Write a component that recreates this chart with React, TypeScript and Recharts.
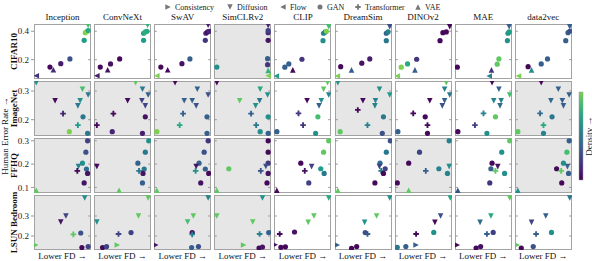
import React from "react";
import { ReferenceLine, Scatter, ScatterChart, XAxis, YAxis } from "recharts";

// [x (FD rank, 0 = worst .. 1 = best), human error rate, model family, density]
type Pt = [number, number, string, number];

const extractors = ["Inception", "ConvNeXt", "SwAV", "SimCLRv2", "CLIP", "DreamSim", "DINOv2", "MAE", "data2vec"];
const datasets = ["CIFAR10", "ImageNet", "FFHQ", "LSUN Bedroom"];
const families = [
    ["C", "Consistency"],
    ["D", "Diffusion"],
    ["F", "Flow"],
    ["G", "GAN"],
    ["T", "Transformer"],
    ["V", "VAE"],
];
const yDomains = [
    [0.064, 0.451],
    [0.143, 0.335],
    [0.076, 0.312],
    [0.13, 0.405],
];
const yTicks = [
    [0.2, 0.4],
    [0.2, 0.3],
    [0.1, 0.2, 0.3],
    [0.2, 0.3],
];
// panels shaded grey (per dataset row)
const shadedPanels = [[3], [0, 1, 2, 3, 5, 8], [0, 1, 2, 3, 6, 8], [0, 1, 2, 3]];

const cifar10: Pt[][] = [
    [[0.04, 0.087, "F", 0.15], [0.28, 0.148, "G", 0.02], [0.34, 0.129, "V", 0.12], [0.47, 0.172, "G", 0.08], [0.63, 0.205, "G", 0.25], [0.88, 0.336, "G", 0.55], [0.9, 0.39, "G", 0.8], [0.93, 0.4, "G", 0.85], [0.95, 0.405, "G", 0.6], [0.95, 0.44, "D", 0.7]],
    [[0.05, 0.087, "F", 0.08], [0.11, 0.148, "G", 0.02], [0.24, 0.129, "V", 0.05], [0.29, 0.17, "G", 0.05], [0.45, 0.205, "G", 0.02], [0.87, 0.336, "G", 0.55], [0.87, 0.386, "G", 0.55], [0.9, 0.395, "G", 0.65], [0.93, 0.4, "G", 0.6], [0.94, 0.442, "D", 0.65]],
    [[0.05, 0.087, "F", 0.8], [0.12, 0.148, "G", 0.02], [0.24, 0.129, "V", 0.02], [0.49, 0.172, "G", 0.05], [0.63, 0.205, "G", 0.3], [0.9, 0.336, "G", 0.15], [0.91, 0.386, "G", 0.1], [0.94, 0.395, "G", 0.05], [0.97, 0.4, "G", 0.1], [0.95, 0.442, "D", 0.08]],
    [[0.05, 0.148, "G", 0.5], [0.95, 0.087, "F", 0.8], [0.95, 0.125, "V", 0.65], [0.94, 0.165, "G", 0.15], [0.94, 0.207, "G", 0.3], [0.95, 0.336, "G", 0.05], [0.95, 0.39, "G", 0.12], [0.95, 0.405, "G", 0.2], [0.95, 0.44, "D", 0.1]],
    [[0.04, 0.085, "F", 0.55], [0.19, 0.147, "G", 0.3], [0.26, 0.17, "G", 0.3], [0.33, 0.128, "V", 0.02], [0.49, 0.203, "G", 0.15], [0.86, 0.334, "G", 0.5], [0.87, 0.386, "G", 0.45], [0.9, 0.395, "G", 0.4], [0.92, 0.4, "G", 0.8], [0.96, 0.432, "D", 0.7]],
    [[0.04, 0.085, "F", 0.8], [0.1, 0.151, "G", 0.02], [0.29, 0.128, "V", 0.3], [0.47, 0.175, "G", 0.05], [0.61, 0.205, "G", 0.08], [0.9, 0.334, "G", 0.4], [0.9, 0.386, "G", 0.3], [0.93, 0.395, "G", 0.45], [0.96, 0.432, "D", 0.25]],
    [[0.04, 0.085, "F", 0.8], [0.11, 0.147, "G", 0.8], [0.22, 0.17, "G", 0.6], [0.35, 0.128, "V", 0.3], [0.38, 0.203, "G", 0.15], [0.79, 0.334, "G", 0.02], [0.84, 0.39, "G", 0.02], [0.9, 0.395, "G", 0.02], [0.96, 0.432, "D", 0.02]],
    [[0.04, 0.147, "G", 0.02], [0.6, 0.085, "F", 0.45], [0.64, 0.128, "V", 0.15], [0.74, 0.168, "G", 0.75], [0.77, 0.205, "G", 0.75], [0.92, 0.334, "G", 0.5], [0.93, 0.386, "G", 0.5], [0.95, 0.395, "G", 0.55], [0.95, 0.432, "D", 0.3]],
    [[0.06, 0.085, "F", 0.8], [0.23, 0.151, "G", 0.02], [0.29, 0.128, "V", 0.5], [0.46, 0.17, "G", 0.3], [0.57, 0.205, "G", 0.3], [0.89, 0.334, "G", 0.3], [0.93, 0.39, "G", 0.3], [0.96, 0.4, "G", 0.25], [0.96, 0.432, "D", 0.3]],
];

const imagenet: Pt[][] = [
    [[0.04, 0.329, "D", 0.5], [0.85, 0.306, "D", 0.7], [0.95, 0.286, "D", 0.4], [0.37, 0.266, "D", 0.02], [0.81, 0.266, "D", 0.5], [0.77, 0.248, "D", 0.4], [0.51, 0.221, "T", 0.1], [0.86, 0.21, "G", 0.4], [0.77, 0.181, "T", 0.55], [0.62, 0.158, "G", 0.8], [0.94, 0.152, "G", 0.4]],
    [[0.73, 0.329, "D", 0.75], [0.85, 0.306, "D", 0.4], [0.95, 0.286, "D", 0.3], [0.59, 0.266, "D", 0.02], [0.84, 0.266, "D", 0.2], [0.9, 0.248, "D", 0.2], [0.34, 0.221, "T", 0.02], [0.9, 0.21, "G", 0.05], [0.05, 0.181, "T", 0.02], [0.32, 0.158, "G", 0.1], [0.85, 0.152, "G", 0.08]],
    [[0.37, 0.329, "D", 0.02], [0.76, 0.306, "D", 0.3], [0.95, 0.286, "D", 0.25], [0.53, 0.266, "D", 0.3], [0.67, 0.266, "D", 0.3], [0.74, 0.248, "D", 0.25], [0.51, 0.221, "T", 0.3], [0.93, 0.21, "G", 0.3], [0.45, 0.181, "T", 0.6], [0.05, 0.158, "G", 0.8], [0.93, 0.152, "G", 0.3]],
    [[0.05, 0.329, "D", 0.02], [0.81, 0.306, "D", 0.6], [0.94, 0.286, "D", 0.5], [0.45, 0.266, "D", 0.75], [0.8, 0.266, "D", 0.4], [0.73, 0.248, "D", 0.5], [0.65, 0.221, "T", 0.3], [0.95, 0.21, "G", 0.5], [0.74, 0.181, "T", 0.4], [0.81, 0.158, "G", 0.5], [0.95, 0.152, "G", 0.3]],
    [[0.94, 0.329, "D", 0.75], [0.87, 0.306, "D", 0.75], [0.96, 0.286, "D", 0.45], [0.58, 0.266, "D", 0.02], [0.83, 0.266, "D", 0.5], [0.79, 0.248, "D", 0.3], [0.43, 0.222, "T", 0.15], [0.77, 0.21, "G", 0.7], [0.51, 0.181, "T", 0.15], [0.05, 0.158, "G", 0.3], [0.73, 0.152, "G", 0.5]],
    [[0.05, 0.329, "D", 0.5], [0.78, 0.306, "D", 0.5], [0.96, 0.286, "D", 0.55], [0.49, 0.266, "D", 0.02], [0.71, 0.266, "D", 0.45], [0.7, 0.248, "D", 0.45], [0.4, 0.234, "T", 0.02], [0.85, 0.21, "G", 0.4], [0.57, 0.181, "T", 0.45], [0.09, 0.158, "G", 0.75], [0.83, 0.152, "G", 0.25]],
    [[0.9, 0.329, "D", 0.75], [0.87, 0.306, "D", 0.45], [0.96, 0.286, "D", 0.4], [0.61, 0.266, "D", 0.02], [0.87, 0.266, "D", 0.3], [0.83, 0.248, "D", 0.25], [0.32, 0.222, "T", 0.02], [0.53, 0.21, "G", 0.02], [0.57, 0.181, "T", 0.02], [0.05, 0.158, "G", 0.3], [0.57, 0.152, "G", 0.02]],
    [[0.65, 0.329, "D", 0.02], [0.77, 0.306, "D", 0.3], [0.96, 0.286, "D", 0.7], [0.68, 0.266, "D", 0.45], [0.81, 0.266, "D", 0.45], [0.79, 0.248, "D", 0.35], [0.5, 0.222, "T", 0.45], [0.71, 0.21, "G", 0.75], [0.35, 0.181, "T", 0.2], [0.05, 0.158, "G", 0.02], [0.56, 0.152, "G", 0.5]],
    [[0.46, 0.329, "D", 0.02], [0.76, 0.306, "D", 0.3], [0.95, 0.286, "D", 0.3], [0.63, 0.266, "D", 0.35], [0.83, 0.266, "D", 0.3], [0.85, 0.248, "D", 0.3], [0.44, 0.222, "T", 0.35], [0.65, 0.21, "G", 0.4], [0.5, 0.181, "T", 0.6], [0.05, 0.158, "G", 0.75], [0.5, 0.152, "G", 0.45]],
];

const ffhq: Pt[][] = [
    [[0.94, 0.3, "G", 0.2], [0.91, 0.251, "G", 0.25], [0.85, 0.204, "G", 0.5], [0.78, 0.19, "D", 0.45], [0.92, 0.179, "G", 0.35], [0.76, 0.171, "T", 0.02], [0.94, 0.16, "G", 0.05], [0.88, 0.119, "G", 0.05], [0.04, 0.088, "V", 0.75]],
    [[0.96, 0.3, "G", 0.5], [0.9, 0.251, "G", 0.4], [0.77, 0.204, "G", 0.3], [0.05, 0.19, "D", 0.02], [0.88, 0.179, "G", 0.4], [0.79, 0.171, "T", 0.4], [0.86, 0.16, "G", 0.05], [0.85, 0.119, "G", 0.3], [0.44, 0.088, "V", 0.75]],
    [[0.95, 0.3, "G", 0.15], [0.88, 0.251, "G", 0.25], [0.79, 0.204, "G", 0.3], [0.74, 0.19, "D", 0.05], [0.9, 0.179, "G", 0.3], [0.73, 0.171, "T", 0.5], [0.96, 0.16, "G", 0.02], [0.82, 0.119, "G", 0.05], [0.05, 0.088, "V", 0.75]],
    [[0.95, 0.3, "G", 0.02], [0.95, 0.251, "G", 0.02], [0.95, 0.204, "G", 0.15], [0.91, 0.19, "D", 0.25], [0.26, 0.18, "G", 0.75], [0.82, 0.171, "T", 0.25], [0.95, 0.16, "G", 0.05], [0.93, 0.119, "G", 0.02], [0.05, 0.088, "V", 0.75]],
    [[0.96, 0.3, "G", 0.75], [0.87, 0.251, "G", 0.75], [0.47, 0.204, "G", 0.02], [0.66, 0.189, "D", 0.2], [0.82, 0.18, "G", 0.55], [0.54, 0.171, "T", 0.05], [0.88, 0.16, "G", 0.4], [0.61, 0.119, "G", 0.2], [0.05, 0.088, "V", 0.02]],
    [[0.97, 0.3, "G", 0.25], [0.9, 0.251, "G", 0.4], [0.79, 0.204, "G", 0.35], [0.78, 0.189, "D", 0.2], [0.88, 0.18, "G", 0.2], [0.81, 0.171, "T", 0.4], [0.85, 0.16, "G", 0.02], [0.7, 0.119, "G", 0.02], [0.05, 0.088, "V", 0.75]],
    [[0.95, 0.3, "G", 0.45], [0.43, 0.251, "G", 0.2], [0.24, 0.204, "G", 0.02], [0.95, 0.189, "D", 0.5], [0.77, 0.18, "G", 0.45], [0.54, 0.171, "T", 0.3], [0.92, 0.16, "G", 0.45], [0.04, 0.119, "G", 0.02], [0.24, 0.088, "V", 0.75]],
    [[0.96, 0.3, "G", 0.75], [0.82, 0.251, "G", 0.5], [0.65, 0.204, "G", 0.02], [0.75, 0.189, "D", 0.05], [0.63, 0.18, "G", 0.3], [0.71, 0.171, "T", 0.75], [0.87, 0.16, "G", 0.5], [0.61, 0.119, "G", 0.15], [0.05, 0.088, "V", 0.25]],
    [[0.95, 0.3, "G", 0.3], [0.91, 0.251, "G", 0.7], [0.85, 0.204, "G", 0.5], [0.92, 0.189, "D", 0.3], [0.73, 0.18, "G", 0.02], [0.81, 0.171, "T", 0.75], [0.94, 0.16, "G", 0.3], [0.82, 0.119, "G", 0.02], [0.05, 0.088, "V", 0.5]],
];

const lsunBedroom: Pt[][] = [
    [[0.89, 0.39, "D", 0.5], [0.56, 0.3, "D", 0.2], [0.47, 0.27, "D", 0.05], [0.69, 0.208, "T", 0.75], [0.82, 0.215, "G", 0.25], [0.03, 0.155, "C", 0.75], [0.84, 0.142, "G", 0.02], [0.95, 0.147, "G", 0.2]],
    [[0.95, 0.39, "D", 0.75], [0.78, 0.3, "D", 0.75], [0.05, 0.27, "D", 0.5], [0.43, 0.21, "T", 0.2], [0.65, 0.217, "G", 0.2], [0.41, 0.155, "C", 0.75], [0.15, 0.142, "G", 0.02], [0.22, 0.147, "G", 0.2]],
    [[0.95, 0.39, "D", 0.45], [0.69, 0.3, "D", 0.75], [0.59, 0.27, "D", 0.7], [0.67, 0.217, "G", 0.02], [0.67, 0.208, "T", 0.45], [0.03, 0.155, "C", 0.05], [0.66, 0.142, "G", 0.3], [0.78, 0.147, "G", 0.25]],
    [[0.85, 0.39, "D", 0.5], [0.05, 0.3, "D", 0.75], [0.68, 0.27, "D", 0.75], [0.8, 0.21, "T", 0.45], [0.96, 0.217, "G", 0.3], [0.52, 0.155, "C", 0.75], [0.79, 0.14, "G", 0.02], [0.85, 0.145, "G", 0.05]],
    [[0.96, 0.39, "D", 0.6], [0.7, 0.3, "D", 0.75], [0.6, 0.268, "D", 0.75], [0.1, 0.21, "T", 0.02], [0.36, 0.22, "G", 0.05], [0.02, 0.156, "C", 0.05], [0.12, 0.143, "G", 0.02], [0.2, 0.146, "G", 0.02]],
    [[0.96, 0.39, "D", 0.5], [0.73, 0.3, "D", 0.75], [0.52, 0.268, "D", 0.5], [0.57, 0.21, "T", 0.3], [0.53, 0.217, "G", 0.25], [0.04, 0.155, "C", 0.3], [0.29, 0.138, "G", 0.02], [0.38, 0.147, "G", 0.02]],
    [[0.97, 0.39, "D", 0.6], [0.8, 0.3, "D", 0.25], [0.7, 0.268, "D", 0.02], [0.37, 0.21, "T", 0.02], [0.68, 0.218, "G", 0.5], [0.37, 0.155, "C", 0.3], [0.04, 0.143, "G", 0.4], [0.19, 0.147, "G", 0.3]],
    [[0.96, 0.39, "D", 0.75], [0.63, 0.3, "D", 0.6], [0.44, 0.268, "D", 0.35], [0.56, 0.21, "T", 0.3], [0.67, 0.218, "G", 0.2], [0.04, 0.155, "C", 0.02], [0.37, 0.14, "G", 0.02], [0.45, 0.147, "G", 0.05]],
    [[0.96, 0.39, "D", 0.4], [0.54, 0.3, "D", 0.3], [0.29, 0.268, "D", 0.2], [0.37, 0.21, "T", 0.3], [0.64, 0.218, "G", 0.5], [0.04, 0.155, "C", 0.75], [0.11, 0.14, "G", 0.02], [0.32, 0.147, "G", 0.25]],
];

const allRows = [cifar10, imagenet, ffhq, lsunBedroom];

const FONT = "'Liberation Serif', 'Times New Roman', 'DejaVu Serif', serif";
const ROW_TOP = [24, 81, 138, 195];
const ROW_H = 55;
const COL_LEFT = 34;
const COL_STEP = 60.1;
const COL_W = 57;
const AXIS_W = 22;
const PAD = 6; // room above/below the plot so edge tick labels are not cut

const VIRIDIS = ["#440154", "#482878", "#3e4989", "#31688e", "#26828e", "#1f9e89", "#35b779", "#6ece58", "#b5de2b", "#fde725"];

function viridis(t: number) {
    const v = Math.max(0, Math.min(1, t)) * (VIRIDIS.length - 1);
    const i = Math.min(Math.floor(v), VIRIDIS.length - 2);
    const f = v - i;
    const a = VIRIDIS[i];
    const b = VIRIDIS[i + 1];
    const ch = (h: string, k: number) => parseInt(h.slice(1 + k * 2, 3 + k * 2), 16);
    const mix = [0, 1, 2].map((k) => Math.round(ch(a, k) + (ch(b, k) - ch(a, k)) * f));
    return `rgb(${mix.join(",")})`;
}

function markerPath(t: string, cx: number, cy: number, s: number) {
    switch (t) {
        case "D":
            return `M${cx - s},${cy - s}L${cx + s},${cy - s}L${cx},${cy + s}Z`;
        case "V":
            return `M${cx - s},${cy + s}L${cx + s},${cy + s}L${cx},${cy - s}Z`;
        case "F":
            return `M${cx + s},${cy - s}L${cx + s},${cy + s}L${cx - s},${cy}Z`;
        case "C":
            return `M${cx - s},${cy - s}L${cx - s},${cy + s}L${cx + s},${cy}Z`;
        default: {
            const b = s / 3;
            return `M${cx - b},${cy - s}H${cx + b}V${cy - b}H${cx + s}V${cy + b}H${cx + b}V${cy + s}H${cx - b}V${cy + b}H${cx - s}V${cy - b}H${cx - b}Z`;
        }
    }
}

function Marker({ t, cx, cy, fill, s = 2.8 }: { t: string; cx: number; cy: number; fill: string; s?: number }) {
    if (t === "G") return <circle cx={cx} cy={cy} r={s * 0.93} fill={fill} />;
    return <path d={markerPath(t, cx, cy, s)} fill={fill} />;
}

const renderPoint = (props: any) => {
    const { cx, cy, payload } = props;
    if (cx == null || cy == null) return <g />;
    return <Marker t={payload.t} cx={cx} cy={cy} fill={viridis(payload.c)} />;
};

function Panel({ row, col }: { row: number; col: number }) {
    const [lo, hi] = yDomains[row];
    const first = col === 0;
    const axisW = first ? AXIS_W : 0;
    const x0 = COL_LEFT + col * COL_STEP;
    const top = ROW_TOP[row];
    const shaded = shadedPanels[row].includes(col);
    const data = allRows[row][col].map(([x, y, t, c]) => ({ x, y, t, c }));
    return (
        <>
            <div
                style={{
                    position: "absolute",
                    left: x0,
                    top,
                    width: COL_W,
                    height: ROW_H,
                    boxSizing: "border-box",
                    background: shaded ? "#e6e6e6" : "#fff",
                    border: "1.3px solid #a3a3a3",
                }}
            />
            <div style={{ position: "absolute", left: x0 - axisW, top: top - PAD }}>
                <ScatterChart width={COL_W + axisW} height={ROW_H + 2 * PAD} margin={{ top: PAD, right: 0, bottom: PAD, left: 0 }}>
                    <XAxis type="number" dataKey="x" domain={[0, 1]} hide allowDataOverflow />
                    <YAxis
                        type="number"
                        dataKey="y"
                        domain={[lo, hi]}
                        allowDataOverflow
                        ticks={yTicks[row]}
                        interval={0}
                        hide={!first}
                        width={axisW}
                        axisLine={false}
                        tickSize={3}
                        tickMargin={2}
                        tickLine={{ stroke: "#999" }}
                        tick={{ fontSize: 9, fill: "#222", fontFamily: FONT }}
                        tickFormatter={(v: number) => v.toFixed(1)}
                    />
                    {yTicks[row].map((t) => (
                        <ReferenceLine key={"r" + t} segment={[{ x: 0.95, y: t }, { x: 1, y: t }]} stroke="#999" />
                    ))}
                    {!first &&
                        yTicks[row].map((t) => (
                            <ReferenceLine key={"l" + t} segment={[{ x: 0, y: t }, { x: 0.05, y: t }]} stroke="#999" />
                        ))}
                    <Scatter data={data} isAnimationActive={false} shape={renderPoint} />
                </ScatterChart>
            </div>
        </>
    );
}

const legendX = [168, 230, 283, 320, 358, 418];

function Decorations() {
    return (
        <svg width={592} height={261} style={{ position: "absolute", left: 0, top: 0 }} fontFamily={FONT}>
            <defs>
                <linearGradient id="cbar" x1="0" y1="1" x2="0" y2="0">
                    {[0, 0.1, 0.2, 0.3, 0.4, 0.5, 0.6, 0.7, 0.8].map((t) => (
                        <stop key={t} offset={t / 0.8} stopColor={viridis(t)} />
                    ))}
                </linearGradient>
            </defs>
            {families.map(([k, name], i) => (
                <g key={k}>
                    <Marker t={k} cx={legendX[i]} cy={7} fill="#777" s={2.7} />
                    <text x={legendX[i] + 7} y={10} fontSize={8} fill="#222">
                        {name}
                    </text>
                </g>
            ))}
            {extractors.map((m, i) => (
                <text key={m} x={COL_LEFT + i * COL_STEP + COL_W / 2} y={20} fontSize={9} textAnchor="middle" fill="#111">
                    {m}
                </text>
            ))}
            {extractors.map((m, i) => (
                <text key={"fd" + m} x={COL_LEFT + i * COL_STEP + COL_W / 2} y={259} fontSize={9} textAnchor="middle" fill="#111">
                    Lower FD →
                </text>
            ))}
            {datasets.map((d, r) => {
                const cy = ROW_TOP[r] + ROW_H / 2;
                return (
                    <text key={d} x={16.5} y={cy} fontSize={9} fontWeight="bold" textAnchor="middle" fill="#111" transform={`rotate(-90 16.5 ${cy})`}>
                        {d}
                    </text>
                );
            })}
            <text x={8} y={136} fontSize={9} textAnchor="middle" fill="#111" transform="rotate(-90 8 136)">
                Human Error Rate →
            </text>
            <rect x={579} y={92} width={4} height={88} fill="url(#cbar)" stroke="#999" strokeWidth={0.5} />
            <text x={591.5} y={136} fontSize={9} textAnchor="middle" fill="#111" transform="rotate(-90 591.5 136)">
                Density →
            </text>
        </svg>
    );
}

export default function App() {
    return (
        <div style={{ position: "absolute", left: 0, top: 0, width: 592, height: 261, background: "#fff", overflow: "hidden" }}>
            <Decorations />
            {allRows.map((cols, r) => cols.map((_, c) => <Panel key={`${r}-${c}`} row={r} col={c} />))}
        </div>
    );
}
